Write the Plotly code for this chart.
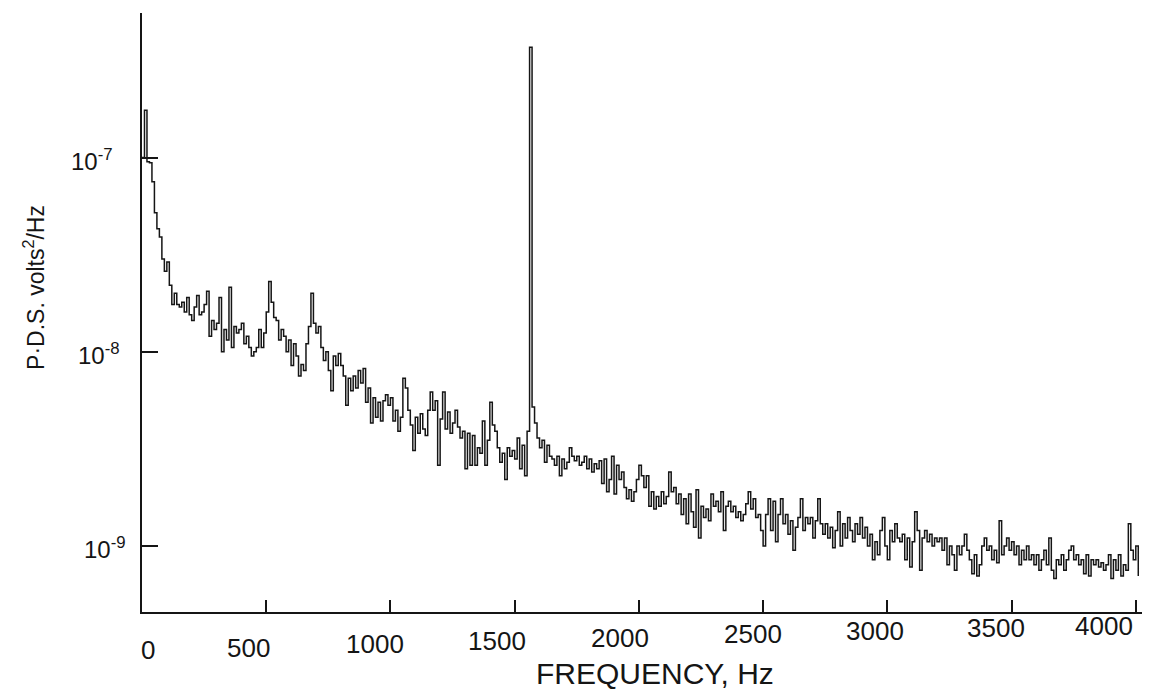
import numpy as np
import plotly.graph_objects as go

# Frequency bins (Hz), 10 Hz spacing
freq_hz = list(range(0, 4020, 10))

# Power density spectrum, in units of 1e-9 volts^2/Hz
psd_e9 = [
    100, 175, 95, 94, 75, 52, 43, 39, 30, 26,            # 0-90
    29, 22, 17.5, 20, 17.5, 17, 18, 16, 19, 15.5,        # 100-190
    14.5, 17, 19.5, 15.5, 16, 17.5, 20.5, 12, 14.5, 13,  # 200
    14, 19, 10, 13, 11.5, 21.5, 10.5, 13.5, 12.5, 13,    # 300
    14, 11, 12, 10.5, 9.5, 10, 10.5, 13, 10.5, 12.5,     # 400
    16, 23, 18, 15, 14.5, 11.5, 13, 12, 10, 11.5,        # 500
    8.5, 11, 9.5, 7.5, 8.6, 8.0, 11, 13.5, 20, 14,       # 600
    12.5, 13.5, 10.5, 9.0, 10, 8.0, 6.3, 9.5, 8.5, 9.8,  # 700
    8.5, 7.5, 5.3, 7.3, 6.3, 7.5, 6.5, 8.0, 6.9, 8.2,    # 800
    5.5, 6.5, 4.3, 5.8, 4.6, 5.5, 4.4, 5.6, 6.0, 5.3,    # 900
    5.8, 4.4, 5.0, 3.9, 4.6, 7.3, 6.5, 5.0, 4.2, 3.1,    # 1000
    4.6, 3.8, 4.8, 4.0, 3.7, 5.0, 6.2, 5.0, 5.6, 2.6,    # 1100
    4.5, 6.2, 4.0, 4.9, 3.8, 4.3, 5.0, 4.1, 3.6, 3.9,    # 1200
    2.5, 3.8, 2.6, 3.7, 2.6, 3.2, 3.0, 4.4, 2.6, 3.5,    # 1300
    5.5, 4.2, 3.9, 3.2, 2.7, 3.0, 2.2, 3.2, 2.9, 3.1,    # 1400
    2.8, 3.6, 2.5, 3.3, 2.3, 3.9, 370, 5.2, 4.3, 3.6,    # 1500
    3.2, 3.5, 2.7, 3.3, 2.9, 2.8, 2.6, 2.9, 2.3, 2.8,    # 1600
    2.5, 2.7, 3.2, 2.9, 2.75, 2.9, 2.6, 2.7, 2.9, 2.5,   # 1700
    2.8, 2.4, 2.65, 2.5, 2.75, 2.1, 2.8, 1.9, 2.2, 2.9,  # 1800
    1.85, 2.6, 2.2, 2.4, 2.0, 1.75, 1.95, 1.7, 1.9, 2.2, # 1900
    2.6, 2.3, 2.0, 2.3, 1.6, 1.9, 1.55, 1.8, 1.6, 1.9,   # 2000
    1.65, 1.8, 2.4, 1.9, 2.0, 1.65, 1.85, 1.45, 1.75, 1.3,  # 2100
    1.85, 1.5, 1.25, 1.95, 1.1, 1.6, 1.4, 1.55, 1.35, 1.85, # 2200
    1.6, 1.7, 1.5, 1.9, 1.2, 1.6, 1.7, 1.5, 1.6, 1.4,    # 2300
    1.5, 1.35, 1.45, 1.65, 1.9, 1.55, 1.75, 1.4, 1.45, 1.2, # 2400
    1.0, 1.45, 1.75, 1.2, 1.7, 1.05, 1.45, 1.75, 1.3, 1.45, # 2500
    1.15, 1.35, 0.95, 1.25, 1.4, 1.75, 1.2, 1.4, 1.3, 1.4,  # 2600
    1.1, 1.35, 1.75, 1.3, 1.15, 1.3, 1.1, 1.25, 0.98, 1.2,  # 2700
    1.5, 1.0, 1.3, 1.1, 1.4, 1.2, 1.05, 1.3, 1.15, 1.4,  # 2800
    1.1, 1.25, 1.0, 1.15, 0.85, 1.05, 0.9, 1.2, 1.4, 1.0,   # 2900
    0.85, 1.2, 1.05, 1.3, 1.1, 1.05, 1.15, 0.85, 1.1, 0.78, # 3000
    1.05, 1.5, 1.2, 0.75, 1.1, 1.2, 1.05, 1.15, 1.0, 1.1,   # 3100
    1.05, 1.1, 0.95, 1.1, 0.8, 1.0, 0.9, 0.75, 1.0, 0.9,    # 3200
    1.0, 1.15, 0.95, 0.85, 0.72, 0.9, 0.7, 0.8, 1.0, 1.1,   # 3300
    0.95, 1.0, 0.85, 0.95, 0.82, 1.35, 0.9, 1.0, 1.1, 0.95, # 3400
    1.05, 0.9, 1.0, 0.8, 0.95, 0.85, 1.0, 0.85, 0.9, 0.8,   # 3500
    0.9, 0.75, 0.85, 0.95, 0.8, 1.1, 0.75, 0.68, 0.85, 0.8, # 3600
    0.9, 0.75, 0.85, 0.95, 1.0, 0.85, 0.9, 0.8, 0.85, 0.72, # 3700
    0.9, 0.7, 0.85, 0.8, 0.85, 0.78, 0.82, 0.75, 0.8, 0.9,  # 3800
    0.68, 0.85, 0.75, 0.9, 0.7, 0.8, 0.75, 1.3, 0.95, 0.85, # 3900
    1.0, 0.7,                                            # 4000-4010
]

x_tick_vals = [0, 500, 1000, 1500, 2000, 2500, 3000, 3500, 4000]
x_tick_text = ["0", "500", "1000", "1500", "2000", "2500", "3000", "3500", "4000"]
y_tick_vals = [1e-9, 1e-8, 1e-7]
y_tick_text = ["10<sup>-9</sup>", "10<sup>-8</sup>", "10<sup>-7</sup>"]

x_title = "FREQUENCY, Hz"
y_title = "P·D.S. volts<sup>2</sup>/Hz"

# label offsets (px) mimicking the hand-lettered placement of the original
x_label_dx = [6, -18, -15, -18, -19, -10, -12, -16, -32]
x_label_dy = [-38, -36, -32, -29, -26, -22, -19, -16, -14]
y_label_dx = [-14, -20, -27]

psd = np.array(psd_e9) * 1e-9

FONT = "Liberation Sans, Arial, Helvetica, sans-serif"
INK = "#151515"

fig = go.Figure(
    go.Scatter(
        x=freq_hz,
        y=psd,
        mode="lines",
        line=dict(color=INK, width=1.5, shape="hv"),
        hoverinfo="x+y",
    )
)

annotations = []
for v, t, dx, dy in zip(x_tick_vals, x_tick_text, x_label_dx, x_label_dy):
    annotations.append(dict(
        text=t, x=v, xref="x", y=0, yref="paper",
        xanchor="center", yanchor="middle", xshift=dx, yshift=dy,
        showarrow=False, font=dict(size=26, family=FONT, color=INK)))
for v, t, dx in zip(y_tick_vals, y_tick_text, y_label_dx):
    annotations.append(dict(
        text=t, x=0, xref="paper", y=np.log10(v), yref="y",
        xanchor="right", yanchor="middle", xshift=dx, yshift=-2,
        showarrow=False, font=dict(size=24, family=FONT, color=INK)))
annotations.append(dict(
    text=x_title, xref="paper", yref="paper", x=0.513, y=-0.103,
    xanchor="center", yanchor="middle", showarrow=False,
    font=dict(size=30, family=FONT, color=INK)))
annotations.append(dict(
    text=y_title, xref="paper", yref="paper", x=-0.108, y=0.541,
    xanchor="center", yanchor="middle", showarrow=False, textangle=-90,
    font=dict(size=23, family=FONT, color=INK)))

fig.update_layout(
    width=1149,
    height=693,
    margin=dict(l=142, r=7, t=13, b=81),
    paper_bgcolor="white",
    plot_bgcolor="white",
    showlegend=False,
    font=dict(family=FONT, color=INK, size=24),
    annotations=annotations,
)

fig.update_xaxes(
    range=[0, 4025], automargin=False,
    showgrid=False, zeroline=False,
    showline=True, linecolor=INK, linewidth=2,
    ticks="inside", ticklen=12, tickwidth=1.5, tickcolor=INK,
    tickvals=x_tick_vals, showticklabels=False,
)
fig.update_yaxes(
    type="log", automargin=False,
    range=[-9.34, -6.256],
    showgrid=False, zeroline=False,
    showline=True, linecolor=INK, linewidth=2,
    ticks="inside", ticklen=16, tickwidth=1.5, tickcolor=INK,
    tickvals=y_tick_vals, showticklabels=False,
)

fig.write_html(
    "out.html",
    config={"displayModeBar": False},
    post_script="document.body.style.margin='0px';",
)
